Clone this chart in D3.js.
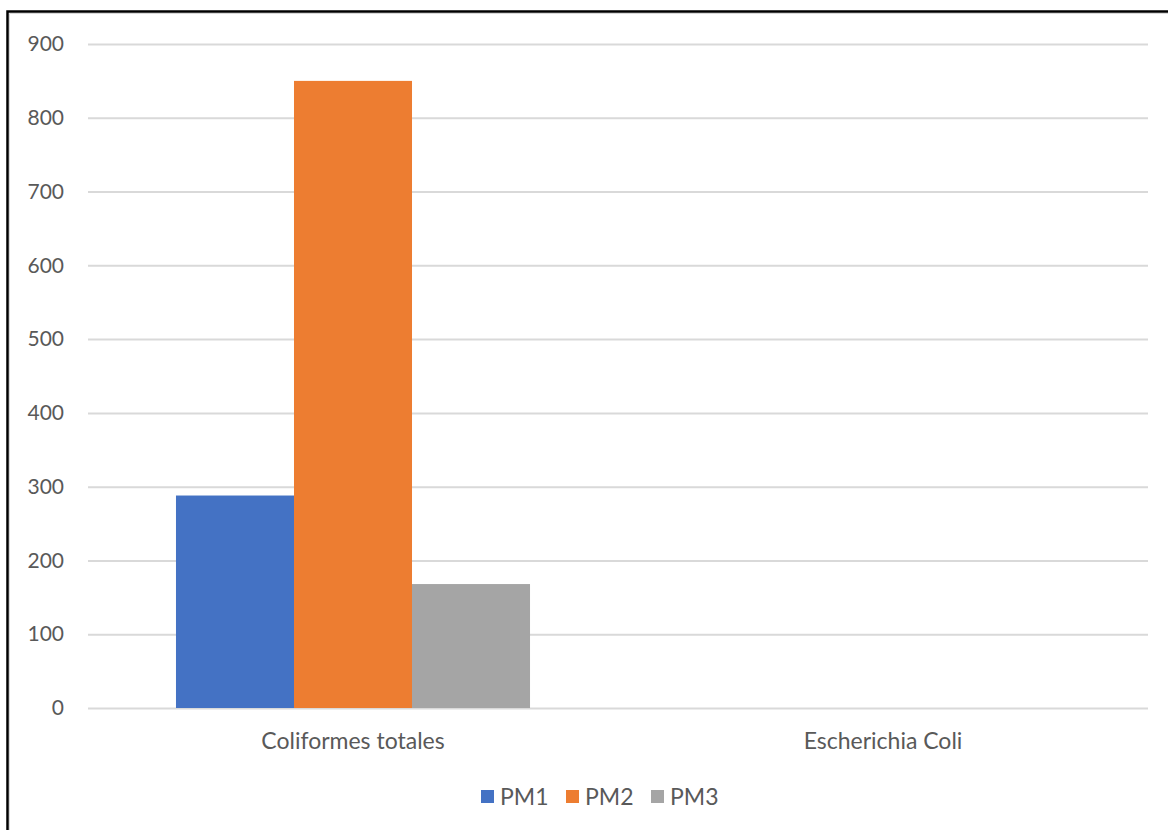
<!DOCTYPE html>
<html>
<head>
<meta charset="utf-8">
<script src="https://cdn.jsdelivr.net/npm/d3@7"></script>
<style>
  html, body { margin: 0; padding: 0; background: #ffffff; }
  svg { display: block; }
  text { font-family: Lato, "Open Sans", sans-serif; fill: #595959; }
</style>
</head>
<body>
<svg id="chart" width="1168" height="830"></svg>
<script>
const categories = ["Coliformes totales", "Escherichia Coli"];
const seriesNames = ["PM1", "PM2", "PM3"];
const pm1 = [288, 0];
const pm2 = [850, 0];
const pm3 = [168, 0];
const seriesValues = [pm1, pm2, pm3];
const seriesColors = ["#4472C4", "#ED7D31", "#A5A5A5"];
const yTicks = [0, 100, 200, 300, 400, 500, 600, 700, 800, 900];

const W = 1168, H = 830;
const plot = { left: 88, right: 1148, top: 44, bottom: 708 };
const tickFont = 21;
const labelFont = 23;

const svg = d3.select("#chart");

// Frame
svg.append("path")
  .attr("d", `M9.5,${H} L9.5,13.5 L${W},13.5`)
  .attr("fill", "none").attr("stroke", "#d9d9d9").attr("stroke-width", 1);
svg.append("path")
  .attr("d", `M7.5,${H} L7.5,11.5 L${W},11.5`)
  .attr("fill", "none").attr("stroke", "#000").attr("stroke-width", 2.5);

const y = d3.scaleLinear().domain([0, 900]).range([plot.bottom, plot.top]);
const x0 = d3.scaleBand().domain(categories).range([plot.left, plot.right])
  .paddingInner(0.332).paddingOuter(0.166);
const x1 = d3.scaleBand().domain(seriesNames).range([0, x0.bandwidth()]).padding(0);

// Gridlines + tick labels via axis
const yAxis = d3.axisLeft(y).tickValues(yTicks)
  .tickSize(-(plot.right - plot.left)).tickPadding(24).tickFormat(d3.format("d"));
const gy = svg.append("g").attr("transform", `translate(${plot.left},0)`).call(yAxis);
gy.select(".domain").remove();
gy.selectAll(".tick line").attr("stroke", "#d9d9d9").attr("stroke-width", 2);
gy.selectAll(".tick text").attr("font-size", tickFont).attr("fill", "#595959")
  .attr("font-family", "Lato, 'Open Sans', sans-serif");

// Bars
const groups = svg.append("g").selectAll("g").data(categories).join("g")
  .attr("transform", d => `translate(${x0(d)},0)`);
groups.selectAll("rect")
  .data((c, ci) => seriesNames.map((s, si) => ({ s, v: seriesValues[si][ci], color: seriesColors[si] })))
  .join("rect")
  .attr("x", d => x1(d.s))
  .attr("width", x1.bandwidth())
  .attr("y", d => y(d.v))
  .attr("height", d => y(0) - y(d.v))
  .attr("fill", d => d.color);

// Category axis labels
const xAxis = d3.axisBottom(x0).tickSize(0).tickPadding(25);
const gx = svg.append("g").attr("transform", `translate(0,${plot.bottom})`).call(xAxis);
gx.select(".domain").remove();
gx.selectAll(".tick text").attr("font-size", labelFont).attr("fill", "#595959")
  .attr("font-family", "Lato, 'Open Sans', sans-serif");

// Legend
const legendX = [481, 566, 651];
const legend = svg.append("g").selectAll("g").data(seriesNames).join("g")
  .attr("transform", (d, i) => `translate(${legendX[i]},790)`);
legend.append("rect").attr("width", 13).attr("height", 13)
  .attr("fill", (d, i) => seriesColors[i]);
legend.append("text").attr("x", 19).attr("y", 6.5).attr("dy", "0.36em")
  .attr("font-size", labelFont).text(d => d);
</script>
</body>
</html>
